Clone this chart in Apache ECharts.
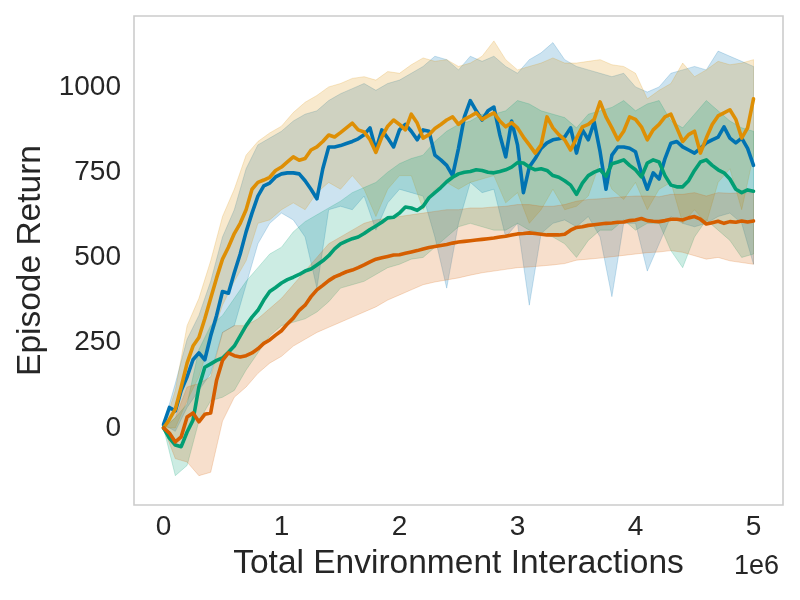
<!DOCTYPE html>
<html>
<head>
<meta charset="utf-8">
<title>Episode Return</title>
<script src="https://cdn.jsdelivr.net/npm/echarts@6/dist/echarts.min.js"></script>
<style>
  html, body { margin: 0; padding: 0; background: #fff; }
  #main { width: 800px; height: 600px; }
</style>
</head>
<body>
<div id="main"></div>
<script>
// x positions of the mean curves, in millions of environment interactions
var steps = [0,0.05,0.1,0.15,0.2,0.25,0.3,0.35,0.4,0.45,0.5,0.55,0.6,0.65,0.7,0.75,0.8,0.85,0.9,0.95,
             1,1.05,1.1,1.15,1.2,1.25,1.3,1.35,1.4,1.45,1.5,1.55,1.6,1.65,1.7,1.75,1.8,1.85,1.9,1.95,
             2,2.05,2.1,2.15,2.2,2.25,2.3,2.35,2.4,2.45,2.5,2.55,2.6,2.65,2.7,2.75,2.8,2.85,2.9,2.95,
             3,3.05,3.1,3.15,3.2,3.25,3.3,3.35,3.4,3.45,3.5,3.55,3.6,3.65,3.7,3.75,3.8,3.85,3.9,3.95,
             4,4.05,4.1,4.15,4.2,4.25,4.3,4.35,4.4,4.45,4.5,4.55,4.6,4.65,4.7,4.75,4.8,4.85,4.9,4.95,5];
// x positions of the shaded bands
var bandSteps = [0,0.1,0.2,0.3,0.4,0.5,0.6,0.7,0.8,0.9,1,1.1,1.2,1.3,1.4,1.5,1.6,1.7,1.8,1.9,2,2.1,2.2,2.3,2.4,2.5,2.6,2.7,2.8,2.9,3,3.1,3.2,3.3,3.4,3.5,3.6,3.7,3.8,3.9,4,4.1,4.2,4.3,4.4,4.5,4.6,4.7,4.8,4.9,5];

// blue run
var blueMean = [10,60,50,110,150,200,220,200,270,330,400,395,455,510,575,630,680,710,718,736,
                745,748,748,745,725,700,672,760,824,824,828,834,840,848,860,880,815,874,850,824,
                874,890,870,845,874,870,800,786,770,740,820,912,960,930,903,930,941,860,795,900,
                830,690,765,790,820,836,845,848,853,880,806,874,845,897,810,700,800,824,824,820,
                810,748,700,748,730,790,835,840,824,815,806,820,836,845,853,883,850,836,850,820,770];
var blueUpper = [10,130,260,330,430,560,640,760,830,850,870, 900,920,930,960,980,995,1010,990,1010,1020, 1040,1060,1090,1080,1050,1090,1075,1090,1060,1040, 1080,1100,1130,1080,1060,1050,1040,1030,1040,1000, 985,1000,1040,1050,1060,1050,1105,1090,1075,1060];
var blueLower = [10,-10,60,110,160,280,300,420,540,600,630, 610,560,410,640,650,640,680,580,660,700, 690,680,560,410,600,720,690,700,560,600, 360,570,600,610,590,620,560,385,600,600, 460,540,620,600,590,600,620,630,600,480];

// orange run
var orangeMean = [0,25,55,120,190,240,265,320,380,440,495,530,570,600,640,700,720,727,735,755,
                  765,780,795,785,790,815,824,840,859,853,866,880,894,874,868,845,808,853,885,903,
                  890,874,920,894,850,860,878,890,903,912,890,905,914,924,905,915,924,900,883,895,
                  880,853,830,806,830,912,880,860,845,815,850,883,890,905,956,912,880,845,870,912,
                  905,883,845,874,890,912,920,880,840,860,870,806,850,890,915,924,933,905,850,880,965];
var orangeUpper = [0,110,300,380,490,620,700,800,840,865,885, 925,955,975,1000,1010,1025,1030,1020,1045,1040, 1065,1085,1075,1080,1060,1070,1090,1135,1080,1050, 1060,1070,1085,1070,1070,1075,1080,1065,1060,1040, 965,990,1010,1070,1030,1050,1075,1065,1070,1080];
var orangeLower = [0,0,80,150,260,360,430,490,600,610,640, 660,640,690,720,700,740,700,620,700,740, 740,640,700,720,700,720,730,740,660,690, 600,640,700,640,650,680,780,700,670,720, 640,700,720,600,640,600,720,760,640,800];

// green run
var greenMean = [0,-30,-50,-55,-12,23,120,178,188,198,205,222,240,270,300,325,345,375,400,412,
                 425,435,442,450,460,466,478,490,505,525,540,548,555,560,570,582,592,603,616,618,
                 630,648,645,638,650,675,690,705,722,735,745,750,752,757,755,750,748,752,757,765,
                 778,777,765,757,760,755,740,735,725,712,685,718,740,750,757,738,775,780,786,770,
                 757,736,777,786,780,740,712,707,707,725,755,780,786,770,757,748,730,700,690,698,694];
var greenUpper = [0,30,70,230,300,330,380,430,470,510,530, 575,605,625,645,665,690,705,720,750,775, 790,800,840,870,890,900,920,920,930,960, 950,930,920,910,880,920,930,940,960,930, 950,960,900,880,920,960,930,900,880,870];
var greenLower = [0,-140,-110,20,80,90,110,170,220,270,300, 310,320,340,370,410,420,430,450,470,480, 495,500,530,560,590,600,590,580,580,600, 580,570,560,540,500,550,580,580,610,580, 600,600,520,470,560,610,580,550,500,510];

// red run
var redMean = [0,-15,-41,-26,32,44,18,40,44,140,198,220,212,208,212,220,232,248,258,272,
               285,305,322,345,360,385,405,418,432,443,450,458,463,470,478,487,495,499,503,507,
               508,512,516,520,525,529,532,535,538,542,545,547,549,551,553,555,557,560,562,566,
               569,570,572,570,568,566,566,566,568,580,588,590,594,596,598,600,601,603,604,608,
               610,614,608,606,605,608,612,612,610,616,620,612,598,602,606,600,605,603,607,604,607];
var redUpper = [0,30,120,130,150,280,300,300,320,350,380, 420,460,500,540,560,580,600,610,615,620, 625,630,635,640,640,645,645,648,650,655, 655,650,650,655,665,670,672,675,678,680, 680,678,685,685,690,680,690,688,690,690];
var redLower = [0,-90,-100,-140,-130,20,90,120,160,190,210, 240,260,280,295,310,325,340,355,375,390, 405,420,428,434,440,448,455,460,465,470, 472,475,478,482,492,495,498,502,506,510, 514,516,520,515,505,495,500,490,485,480];

var runs = [
    {name: 'blue',   color: '#0173b2', rgb: '1,115,178', mean: blueMean,   upper: blueUpper,   lower: blueLower},
    {name: 'orange', color: '#de8f05', rgb: '222,143,5', mean: orangeMean, upper: orangeUpper, lower: orangeLower},
    {name: 'green',  color: '#029e73', rgb: '2,158,115', mean: greenMean,  upper: greenUpper,  lower: greenLower},
    {name: 'red',    color: '#d55e00', rgb: '213,94,0',  mean: redMean,    upper: redUpper,    lower: redLower}
];

var font = "'Liberation Sans', Arial, sans-serif";
var textColor = '#262626';

function pairs(xs, ys) {
    var out = [];
    for (var i = 0; i < xs.length; i++) out.push([xs[i], ys[i]]);
    return out;
}

// shaded band between lower and upper, one polygon placed through the axes
function bandSeries(run) {
    return {
        type: 'custom',
        name: run.name + ' band',
        silent: true,
        clip: true,
        z: 1,
        data: [[0, 0]],
        renderItem: function (params, api) {
            var pts = [];
            for (var i = 0; i < bandSteps.length; i++) pts.push(api.coord([bandSteps[i], run.upper[i]]));
            for (var j = bandSteps.length - 1; j >= 0; j--) pts.push(api.coord([bandSteps[j], run.lower[j]]));
            return {
                type: 'polygon',
                shape: {points: pts},
                style: {
                    fill: 'rgba(' + run.rgb + ',0.2)',
                    stroke: 'rgba(' + run.rgb + ',0.2)',
                    lineWidth: 1
                }
            };
        }
    };
}

function lineSeries(run) {
    return {
        type: 'line',
        name: run.name,
        data: pairs(steps, run.mean),
        showSymbol: false,
        symbol: 'none',
        silent: true,
        z: 3,
        lineStyle: {color: run.color, width: 3.6, join: 'round', cap: 'round'},
        itemStyle: {color: run.color}
    };
}

var series = [];
runs.forEach(function (r) { series.push(bandSeries(r)); });
runs.forEach(function (r) { series.push(lineSeries(r)); });

var chart = echarts.init(document.getElementById('main'), null, {renderer: 'canvas'});
chart.setOption({
    backgroundColor: '#ffffff',
    animation: false,
    textStyle: {fontFamily: font},
    title: {
        text: '1e6',
        right: 16,
        top: 548,
        textStyle: {fontFamily: font, fontSize: 27, fontWeight: 'normal', color: textColor}
    },
    grid: {
        left: 134, right: 17, top: 16, bottom: 95,
        containLabel: false,
        show: true,
        borderColor: '#cccccc',
        borderWidth: 1.6,
        backgroundColor: 'transparent'
    },
    xAxis: {
        type: 'value',
        min: -0.25,
        max: 5.25,
        minInterval: 1,
        maxInterval: 1,
        name: 'Total Environment Interactions',
        nameLocation: 'middle',
        nameGap: 42,
        nameTextStyle: {fontFamily: font, fontSize: 33.5, color: textColor},
        axisLine: {show: false},
        axisTick: {show: false},
        splitLine: {show: false},
        axisLabel: {
            fontFamily: font, fontSize: 28, color: textColor, margin: 8,
            showMinLabel: false, showMaxLabel: false,
            formatter: function (v) { return Math.abs(v - Math.round(v)) < 1e-9 ? String(Math.round(v)) : ''; }
        }
    },
    yAxis: {
        type: 'value',
        min: -226,
        max: 1208,
        minInterval: 250,
        maxInterval: 250,
        name: 'Episode Return',
        nameLocation: 'middle',
        nameRotate: 90,
        nameGap: 86,
        nameTextStyle: {fontFamily: font, fontSize: 33.5, color: textColor},
        axisLine: {show: false},
        axisTick: {show: false},
        splitLine: {show: false},
        axisLabel: {
            fontFamily: font, fontSize: 28, color: textColor, margin: 13,
            showMinLabel: false, showMaxLabel: false,
            formatter: function (v) { return Math.abs(v % 250) < 1e-9 ? String(v) : ''; }
        }
    },
    series: series
});
</script>
</body>
</html>
